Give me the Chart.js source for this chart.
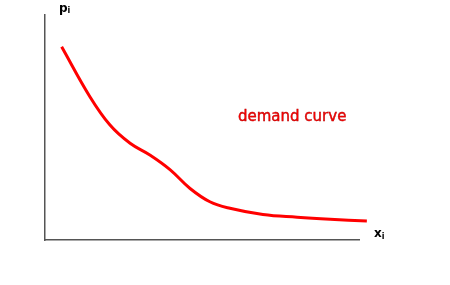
<!DOCTYPE html>
<html>
<head>
<meta charset="utf-8">
<script src="https://cdn.jsdelivr.net/npm/chart.js@4"></script>
<style>
  html, body { margin: 0; padding: 0; background: #fff; }
  #wrap { position: relative; width: 450px; height: 285px; }
</style>
</head>
<body>
<div id="wrap"><canvas id="demandChart" width="450" height="285"></canvas></div>
<script>
// quantity (x) and price (p), axis units 0..100
const quantity = [5.3, 14.3, 20.7, 27.1, 33.4, 39.8, 46.2, 52.5, 58.9, 69.4, 80.3, 90.8, 102.5];
const price = [85.9, 63.7, 51.1, 43.0, 37.8, 31.3, 22.9, 17.0, 14.1, 11.3, 10.1, 9.2, 8.4];
const curveLabel = 'demand curve';
const xLabel = ['x', 'i'];
const yLabel = ['p', 'i'];

const points = quantity.map((q, i) => ({ x: q, y: price[i] }));

// axis names and the curve label
const labelsPlugin = {
  id: 'labels',
  afterDraw(chart) {
    const ctx = chart.ctx;
    const area = chart.chartArea;
    ctx.save();
    ctx.textBaseline = 'alphabetic';
    ctx.fillStyle = '#000';

    ctx.font = 'bold 12px "DejaVu Sans"';
    ctx.fillText(yLabel[0], area.left + 14, area.top - 3);
    let w = ctx.measureText(yLabel[0]).width;
    ctx.font = 'bold 8px "DejaVu Sans"';
    ctx.fillText(yLabel[1], area.left + 14 + w, area.top - 2);

    ctx.font = 'bold 12px "DejaVu Sans"';
    ctx.fillText(xLabel[0], area.right + 15, area.bottom - 3);
    w = ctx.measureText(xLabel[0]).width;
    ctx.font = 'bold 8px "DejaVu Sans"';
    ctx.fillText(xLabel[1], area.right + 15 + w, area.bottom - 1);

    ctx.font = '15px "DejaVu Sans"';
    ctx.fillStyle = '#ff0000';
    ctx.strokeStyle = '#b00000';
    ctx.lineWidth = 0.4;
    ctx.fillText(curveLabel, 238, 121);
    ctx.strokeText(curveLabel, 238, 121);
    ctx.restore();
  }
};

new Chart(document.getElementById('demandChart'), {
  type: 'line',
  data: {
    datasets: [{
      data: points,
      borderColor: '#ff0000',
      borderWidth: 3,
      pointRadius: 0,
      tension: 0.4,
      fill: false,
      clip: false
    }]
  },
  options: {
    responsive: false,
    animation: false,
    layout: { padding: { left: 45, top: 15, right: 91, bottom: 45 } },
    plugins: { legend: { display: false }, tooltip: { enabled: false } },
    scales: {
      x: {
        type: 'linear',
        min: 0,
        max: 100,
        ticks: { display: false },
        grid: { display: false, drawTicks: false },
        border: { display: true, color: '#555', width: 1.5 }
      },
      y: {
        type: 'linear',
        min: 0,
        max: 100,
        ticks: { display: false },
        grid: { display: false, drawTicks: false },
        border: { display: true, color: '#555', width: 1.5 }
      }
    }
  },
  plugins: [labelsPlugin]
});
</script>
</body>
</html>
